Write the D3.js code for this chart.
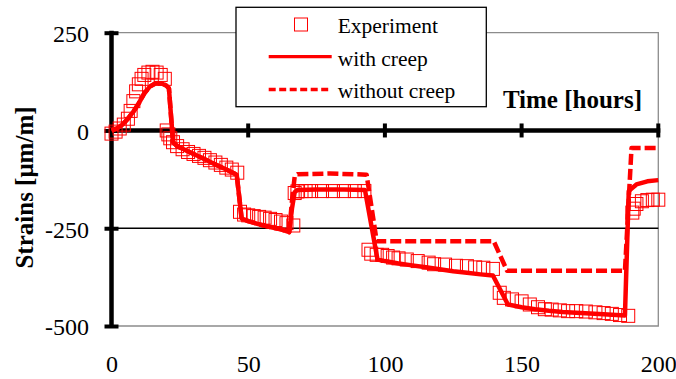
<!DOCTYPE html>
<html>
<head>
<meta charset="utf-8">
<script src="https://cdn.jsdelivr.net/npm/d3@7"></script>
<style>
body { margin: 0; background: #fff; }
svg { font-family: "Liberation Serif", "Times New Roman", serif; }
</style>
</head>
<body>
<script>
// [time in hours, strain in um/m]
const experiment = [
  [0, -8], [1.5, -3], [3, 5], [4.5, 15], [6, 30], [7, 50], [8, 75], [9, 100], [10, 118],
  [11, 132], [12, 142], [13.5, 148], [15, 150], [16.5, 148], [18, 142], [19.5, 132],
  [20.2, 0], [20.8, -10], [21.5, -20], [22.5, -30], [24, -40], [26, -48], [28, -55],
  [30, -60], [32, -65], [34, -70], [36, -76], [38, -82], [40, -88], [42, -95], [44, -100],
  [46, -108],
  [47, -208], [48.5, -215], [50, -217], [52, -219], [54, -221], [56, -223], [58, -226],
  [60, -229], [62, -233], [64, -237], [66.5, -243],
  [67, -160], [68, -156], [69.5, -155], [71, -155], [73, -155], [77, -155], [81, -155],
  [85, -155], [89, -155], [92.5, -155],
  [94, -305], [95, -315], [97, -318], [99, -318], [101, -321], [103, -325], [105, -327],
  [108, -330], [112, -334], [116, -338], [118, -342], [122, -343], [126, -346], [130, -347],
  [133, -350], [136, -351], [139.5, -354],
  [142, -415], [143.5, -428], [146.5, -432], [150, -437], [153, -445], [156, -452],
  [158.5, -457], [161, -458], [164, -460], [167, -462], [170, -462], [173.5, -463],
  [177, -465], [180, -467], [183, -469], [186, -472], [189, -474],
  [190.5, -210], [191, -200], [192, -188], [194, -181], [196, -178], [198, -177], [200, -177]
];

const withCreep = [
  [0, 0], [2, 5], [4, 15], [6, 30], [8, 48], [10, 70], [12, 95], [14, 112], [16, 120],
  [18, 121], [20, 115], [21, 108], [22.5, -30], [24, -40], [27, -50], [30, -60], [33, -70],
  [36, -80], [39, -90], [42, -100], [45.8, -113], [47.6, -225], [50, -232], [54, -240],
  [58, -247], [62, -253], [65, -260], [66, -200], [67, -158], [68, -152], [75, -151],
  [85, -151], [92.7, -152], [97.3, -330], [100, -334], [105, -340], [110, -345],
  [115, -350], [120, -355], [125, -360], [130, -364], [135, -368], [139.5, -371],
  [145, -445], [150, -452], [155, -457], [160, -461], [165, -464], [170, -466],
  [175, -468], [180, -470], [187.8, -473], [189.2, -155], [190, -150], [192, -138],
  [196, -130], [200, -127]
];

const withoutCreep = [
  [0, 0], [2, 5], [4, 15], [6, 30], [8, 48], [10, 70], [12, 95], [14, 112], [16, 120],
  [18, 121], [20, 115], [21, 108], [22.5, -30], [24, -40], [27, -50], [30, -60], [33, -70],
  [36, -80], [39, -90], [42, -100], [45.8, -113], [47.6, -225], [50, -232], [54, -240],
  [58, -247], [62, -253], [65, -260], [66, -180], [67, -118], [68, -112], [80, -110],
  [93.3, -113], [97, -283], [139.8, -283], [144.7, -359], [187.8, -359], [190.2, -45],
  [200, -45]
];

const xTicks = [0, 50, 100, 150, 200];
const yTicks = [250, 0, -250, -500];

const margin = {
  t: 32.7,
  b: 53,
  l: 111.5,
  r: 17.7 };

const W = 676, H = 379;
const w = W - margin.l - margin.r;
const h = H - margin.t - margin.b;

const svg = d3.select('body').
append('svg').
attr('width', W).
attr('height', H);

const g = svg.append('g').
attr('transform', 'translate(' + margin.l + ',' + margin.t + ')');

const xScale = d3.scaleLinear().
domain([0, 200]).
range([0, w]);

const yScale = d3.scaleLinear().
domain([-500, 250]).
range([h, 0]);

// plot area border (grey) and the -250 gridline
g.append('path').
attr('d', `M0,${yScale(250)}H${w}V${yScale(-500)}H0`).
attr('fill', 'none').
attr('stroke', '#8c8c8c').
attr('stroke-width', 1.3);

g.append('line').
attr('x1', 0).
attr('x2', w).
attr('y1', yScale(-250)).
attr('y2', yScale(-250)).
attr('stroke', '#000').
attr('stroke-width', 1.3);

// y axis
const yAxis = d3.axisLeft(yScale).
tickValues(yTicks).
tickFormat(d => String(d)).
tickSizeInner(7).
tickSizeOuter(0).
tickPadding(15.5);

const yg = g.append('g').call(yAxis);
yg.select('.domain').remove();
yg.selectAll('.tick line').
attr('x1', 7).
attr('stroke', '#000').
attr('stroke-width', 4);
yg.selectAll('.tick text').
attr('dy', '0.37em').
style('font-size', '24px').
style('font-family', '"Liberation Serif", serif').
attr('fill', '#000');

g.append('line').
attr('x1', 0).
attr('x2', 0).
attr('y1', yScale(250) - 2).
attr('y2', yScale(-500) + 2).
attr('stroke', '#000').
attr('stroke-width', 4.5);

// x axis drawn at strain = 0, labels at the bottom
g.append('line').
attr('x1', 0).
attr('x2', w + 2).
attr('y1', yScale(0)).
attr('y2', yScale(0)).
attr('stroke', '#000').
attr('stroke-width', 4.5);

g.selectAll('.xtick').
data(xTicks.filter(d => d > 0)).
enter().
append('line').
attr('class', 'xtick').
attr('x1', d => xScale(d)).
attr('x2', d => xScale(d)).
attr('y1', yScale(0) - 7).
attr('y2', yScale(0) + 7).
attr('stroke', '#000').
attr('stroke-width', 4);

const xAxis = d3.axisBottom(xScale).
tickValues(xTicks).
tickFormat(d => String(d)).
tickSize(0).
tickPadding(29);

const xg = g.append('g').
attr('transform', 'translate(0,' + h + ')').
call(xAxis);
xg.select('.domain').remove();
xg.selectAll('.tick text').
style('font-size', '24px').
style('font-family', '"Liberation Serif", serif').
attr('fill', '#000');

// series
const line = d3.line().
x(d => xScale(d[0])).
y(d => yScale(d[1]));

g.append('path').
datum(withoutCreep).
attr('d', line).
attr('fill', 'none').
attr('stroke', '#ff0000').
attr('stroke-width', 4.5).
attr('stroke-dasharray', '11,4').
attr('stroke-linejoin', 'round');

g.append('path').
datum(withCreep).
attr('d', line).
attr('fill', 'none').
attr('stroke', '#ff0000').
attr('stroke-width', 4.5).
attr('stroke-linejoin', 'round');

const sq = 13;
g.selectAll('.dot').
data(experiment).
enter().
append('rect').
attr('class', 'dot').
attr('x', d => xScale(d[0]) - sq / 2).
attr('y', d => yScale(d[1]) - sq / 2).
attr('width', sq).
attr('height', sq).
attr('fill', 'none').
attr('stroke', '#ff0000').
attr('stroke-width', 1);

// titles
svg.append('text').
attr('x', 642).
attr('y', 108).
attr('text-anchor', 'end').
style('font-size', '25px').
style('font-weight', 'bold').
text('Time [hours]');

svg.append('text').
attr('transform', 'translate(33,187.5) rotate(-90)').
attr('text-anchor', 'middle').
style('font-size', '25px').
style('font-weight', 'bold').
text('Strains [μm/m]');

// legend
const legend = svg.append('g');

legend.append('rect').
attr('x', 236).
attr('y', 7.3).
attr('width', 250.3).
attr('height', 99.4).
attr('fill', '#fff').
attr('stroke', '#000').
attr('stroke-width', 1.3);

const legendItems = ['Experiment', 'with creep', 'without creep'];

legend.selectAll('.ltext').
data(legendItems).
enter().
append('text').
attr('class', 'ltext').
attr('x', 337.7).
attr('y', (d, i) => 32.7 + i * 32.8).
style('font-size', '21.5px').
text(d => d);

legend.append('rect').
attr('x', 294.5).
attr('y', 18).
attr('width', sq).
attr('height', sq).
attr('fill', 'none').
attr('stroke', '#ff0000').
attr('stroke-width', 1);

legend.append('line').
attr('x1', 268.7).
attr('x2', 331.7).
attr('y1', 56.7).
attr('y2', 56.7).
attr('stroke', '#ff0000').
attr('stroke-width', 3.3);

legend.append('line').
attr('x1', 268.7).
attr('x2', 331.7).
attr('y1', 89.5).
attr('y2', 89.5).
attr('stroke', '#ff0000').
attr('stroke-width', 3.3).
attr('stroke-dasharray', '7,3.5');
</script>
</body>
</html>
